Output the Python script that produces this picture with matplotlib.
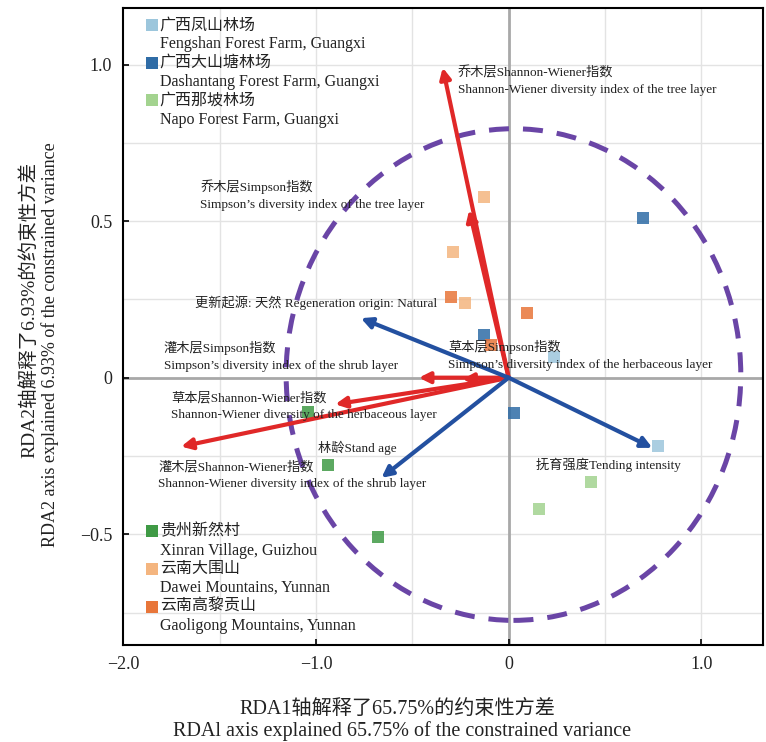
import numpy as np
import matplotlib
matplotlib.use("Agg")
import matplotlib.pyplot as plt
from matplotlib.patches import Ellipse

plt.rcParams['font.family'] = ['Liberation Serif', 'Noto Sans CJK SC']
plt.rcParams['axes.unicode_minus'] = True

# site scores
site_names = ['广西凤山林场\nFengshan Forest Farm, Guangxi',
              '广西大山塘林场\nDashantang Forest Farm, Guangxi',
              '广西那坡林场\nNapo Forest Farm, Guangxi',
              '贵州新然村\nXinran Village, Guizhou',
              '云南大围山\nDawei Mountains, Yunnan',
              '云南高黎贡山\nGaoligong Mountains, Yunnan']
site_colors = ['#9cc6dc', '#2f6ca6', '#a3d38f', '#3f9a45', '#f4b57f', '#e8763a']
site_x = [[0.233, 0.777],
          [0.70, -0.13, 0.026],
          [0.425, 0.16],
          [-1.04, -0.94, -0.68],
          [-0.13, -0.29, -0.228],
          [-0.30, 0.093, -0.09]]
site_y = [[0.067, -0.217],
          [0.51, 0.137, -0.112],
          [-0.333, -0.42],
          [-0.108, -0.278, -0.51],
          [0.578, 0.40, 0.24],
          [0.259, 0.208, 0.105]]

# response variables (red) and explanatory variables (blue)
resp_x = [-0.342, -0.205, -0.466, -0.90, -1.70, -0.24]
resp_y = [0.99, 0.535, 0.0, -0.085, -0.22, -0.005]
expl_x = [-0.767, -0.66, 0.746]
expl_y = [0.19, -0.32, -0.224]

labels = ['乔木层Shannon-Wiener指数\nShannon-Wiener diversity index of the tree layer',
          '乔木层Simpson指数\nSimpson’s diversity index of the tree layer',
          '更新起源: 天然 Regeneration origin: Natural',
          '灌木层Simpson指数\nSimpson’s diversity index of the shrub layer',
          '草本层Shannon-Wiener指数\nShannon-Wiener diversity of the herbaceous layer',
          '林龄Stand age',
          '灌木层Shannon-Wiener指数\nShannon-Wiener diversity index of the shrub layer',
          '草本层Simpson指数\nSimpson’s diversity index of the herbaceous layer',
          '抚育强度Tending intensity']
label_x = [-0.264, -1.60, -1.63, -1.79, -1.75, -0.99, -1.82, -0.316, 0.14]
label_y = [0.995, 0.632, 0.24, 0.117, -0.045, -0.224, -0.265, 0.12, -0.278]
label_va = ['top', 'top', 'center', 'top', 'top', 'center', 'top', 'top', 'center']

fig = plt.figure(figsize=(7.66, 7.42), dpi=100)
ax = fig.add_axes([0.161, 0.131, 0.835, 0.858])
ax.set_xlim(-2.0, 1.32)
ax.set_ylim(-0.853, 1.18)

# grid
for gx in [-1.5, -1.0, -0.5, 0.5, 1.0]:
    ax.axvline(gx, color='#e3e3e3', lw=1, zorder=0)
for gy in [-0.75, -0.5, -0.25, 0.25, 0.5, 0.75, 1.0]:
    ax.axhline(gy, color='#e3e3e3', lw=1, zorder=0)
ax.axvline(0, color='#a8a8a8', lw=2, zorder=1)
ax.axhline(0, color='#a8a8a8', lw=2, zorder=1)

ell = Ellipse((0.025, 0.01), 2.36, 1.57, fill=False, edgecolor='#6a45a6',
              lw=3.6, ls=(0, (4.0, 2.8)), zorder=2)
ax.add_patch(ell)

for xs, ys, c in zip(site_x, site_y, site_colors):
    ax.scatter(xs, ys, marker='s', s=85, color=c, alpha=0.85, lw=0, zorder=3)

for x, y in zip(resp_x, resp_y):
    ax.annotate('', xy=(x, y), xytext=(0, 0),
                arrowprops=dict(arrowstyle='-|>', color='#e02828', lw=3,
                                mutation_scale=16, shrinkA=0, shrinkB=0), zorder=4)
for x, y in zip(expl_x, expl_y):
    ax.annotate('', xy=(x, y), xytext=(0, 0),
                arrowprops=dict(arrowstyle='-|>', color='#2350a0', lw=3,
                                mutation_scale=16, shrinkA=0, shrinkB=0), zorder=4)

for t, x, y, va in zip(labels, label_x, label_y, label_va):
    ax.text(x, y, t, fontsize=9.5, color='#222222', ha='left', va=va,
            linespacing=1.55, zorder=5)

# legends drawn by hand so the marker sits on the first line
top_rows = [0.973, 0.914, 0.855]
bot_rows = [0.178, 0.119, 0.060]
for i in range(6):
    yy = top_rows[i] if i < 3 else bot_rows[i - 3]
    cn, en = site_names[i].split('\n')
    ax.scatter([0.045], [yy], marker='s', s=65, color=site_colors[i], lw=0,
               transform=ax.transAxes, zorder=6)
    ax.text(0.057, yy, cn, transform=ax.transAxes, fontsize=11.5, va='center',
            ha='left', color='#222222', zorder=6)
    ax.text(0.057, yy - 0.03, en, transform=ax.transAxes, fontsize=11.5,
            va='center', ha='left', color='#222222', zorder=6)

ax.set_xticks([-2.0, -1.0, 0, 1.0], ['−2.0', '−1.0', '0', '1.0'])
ax.set_yticks([-0.5, 0, 0.5, 1.0], ['−0.5', '0', '0.5', '1.0'])
ax.tick_params(direction='in', length=4, width=1.2, labelsize=13, pad=8,
               labelcolor='#222222')
for sp in ax.spines.values():
    sp.set_linewidth(1.5)

# axis titles, Chinese line and English line
fig.text(0.519, 0.044, 'RDA1轴解释了65.75%的约束性方差', ha='center', va='center',
         fontsize=14.5, color='#222222')
fig.text(0.525, 0.015, 'RDAl axis explained 65.75% of the constrained variance',
         ha='center', va='center', fontsize=14.5, color='#222222')
fig.text(0.038, 0.582, 'RDA2轴解释了6.93%的约束性方差', ha='center', va='center',
         rotation=90, fontsize=14, color='#222222')
fig.text(0.066, 0.535, 'RDA2 axis explained 6.93% of the constrained variance',
         ha='center', va='center', rotation=90, fontsize=13, color='#222222')

fig.savefig('out.png', dpi=100)
